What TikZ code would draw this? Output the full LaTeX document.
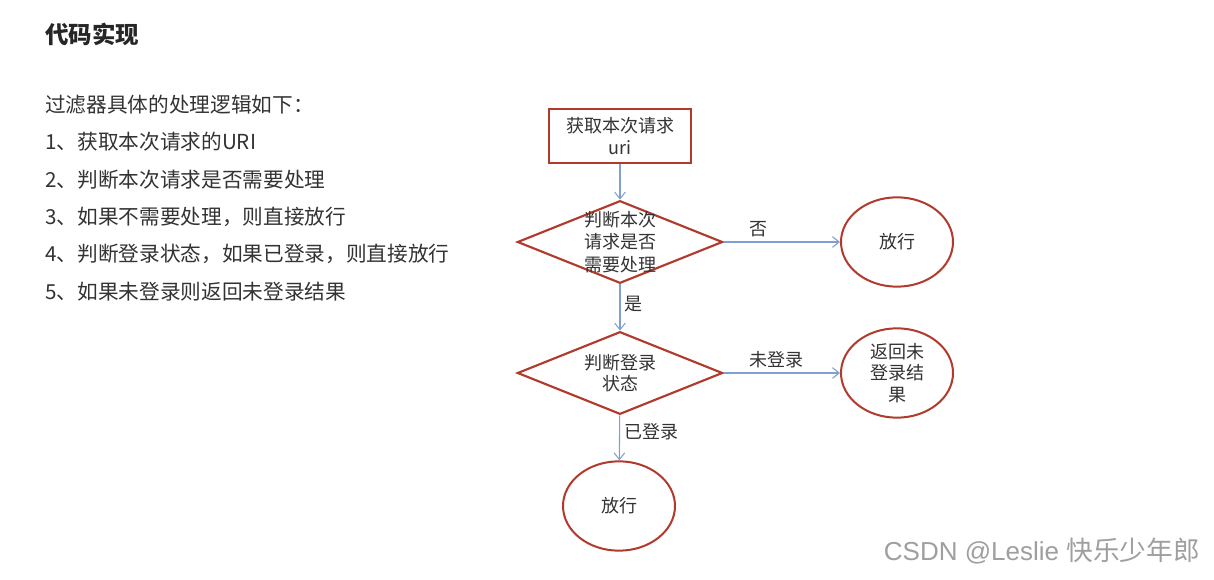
\documentclass[tikz,border=0pt]{standalone}
\usepackage{fontspec}
\setmainfont{Noto Sans CJK SC}
\newfontfamily\wmfont{Liberation Sans}
\usetikzlibrary{shapes.geometric,arrows.meta}
\definecolor{boxred}{HTML}{B23A2C}
\definecolor{linkblue}{HTML}{7E9FD2}
\definecolor{inkgray}{HTML}{333333}
\tikzset{
  box/.style={draw=boxred, line width=1.6pt, minimum width=107pt, minimum height=40.5pt, inner sep=0pt, align=center},
  decision/.style={diamond, draw=boxred, line width=1.6pt, minimum width=154pt, minimum height=62pt, inner sep=0pt},
  terminal/.style={ellipse, draw=boxred, line width=1.5pt, minimum width=84pt, minimum height=67pt, inner sep=0pt, align=center},
  link/.style={draw=linkblue, line width=0.8pt, -{Straight Barb[length=5pt,width=8pt]}},
  nodetext/.style={font=\fontsize{13.5}{16}\selectfont, text=inkgray},
  listtext/.style={font=\fontsize{15.5}{18}\selectfont, text=inkgray, inner sep=0pt, anchor=west}
}

\begin{document}
\begin{tikzpicture}[x=0.75pt, y=-0.75pt]
\useasboundingbox[fill=white] (0,0) rectangle (1214,580);
\node[name=title, anchor=west, inner sep=0pt, font=\fontsize{17.6}{20}\selectfont\bfseries, text=black!85] at (45,34) {代码实现};
\foreach \y/\txt [count=\i from 0] in {105/过滤器具体的处理逻辑如下：, 142/1、获取本次请求的URI, 180/2、判断本次请求是否需要处理, 217/3、如果不需要处理，则直接放行, 254/4、判断登录状态，如果已登录，则直接放行, 292/5、如果未登录则返回未登录结果}
\node[name=item\i, listtext] at (45,\y) {\txt};
\node[name=start, box, nodetext] at (620,136) {获取本次请求\\uri};
\node[name=check, decision] at (620,242) {};
\node[name=check-text, nodetext, align=center, inner sep=0pt, font=\fontsize{13.5}{17}\selectfont] at (check.center) {判断本次\\请求是否\\需要处理};
\node[name=pass, terminal, nodetext] at (897,242) {放行};
\node[name=login, decision] at (620,373) {};
\node[name=login-text, nodetext, align=center, inner sep=0pt] at (login.center) {判断登录\\状态};
\node[name=reject, terminal, nodetext] at (897,373) {返回未\\登录结\\果};
\node[name=done, terminal, nodetext] at (619,506) {放行};
\draw[link] (start) -- (check);
\draw[link] (check) -- node[pos=0.3, above, nodetext] {否} (pass);
\draw[link] (check) -- node[pos=0.42, right, nodetext] {是} (login);
\draw[link] (login) -- node[pos=0.45, above, nodetext] {未登录} (reject);
\draw[link] (login) -- node[pos=0.37, right, nodetext] {已登录} (done);
\node[name=watermark, anchor=east, inner sep=0pt, text=gray!75] at (1200,551) {{\wmfont\fontsize{19.5}{20}\selectfont CSDN @Leslie }\fontsize{20}{20}\selectfont 快乐少年郎};
\end{tikzpicture}
\end{document}
